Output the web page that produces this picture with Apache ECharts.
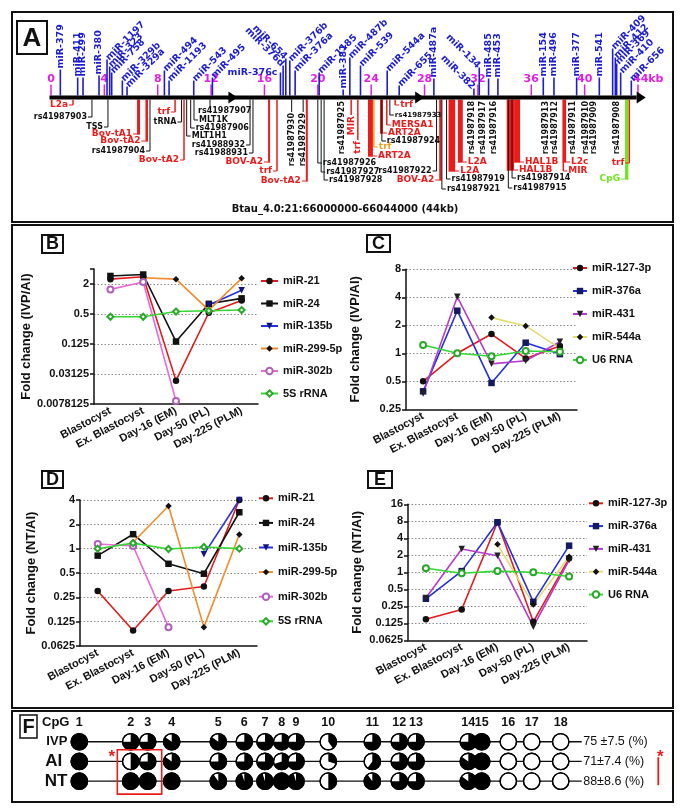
<!DOCTYPE html>
<html><head><meta charset="utf-8">
<script src="https://cdn.jsdelivr.net/npm/echarts@6/dist/echarts.min.js"></script>
<style>html,body{margin:0;padding:0;background:#fff}#c{width:685px;height:812px}</style>
</head><body><div id="c"></div>
<script>
// ---------------- DATA ----------------
const cats = ['Blastocyst','Ex. Blastocyst','Day-16 (EM)','Day-50 (PL)','Day-225 (PLM)'];

// Panel B : fold change IVP/AI
const bNames    = ['miR-21','miR-24','miR-135b','miR-299-5p','miR-302b','5S rRNA'];
const b_miR21   = [2.5, 2.8, 0.023, 0.53, 0.93];
const b_miR24   = [2.9, 3.1, 0.14, 0.8, 1.03];
const b_miR135b = [null, null, null, 0.76, 1.5];
const b_miR299  = [null, 2.67, 2.5, 0.6, 2.6];
const b_miR302b = [1.56, 2.2, 0.009, null, null];
const b_5S      = [0.44, 0.44, 0.56, 0.58, 0.6];
const bTicks = [0.0078125, 0.03125, 0.125, 0.5, 2];
const bAxisTop = 4;

// Panel C : fold change IVP/AI
const cNames  = ['miR-127-3p','miR-376a','miR-431','miR-544a','U6 RNA'];
const c_127   = [0.5, 1.0, 1.61, 0.88, 1.2];
const c_376a  = [0.39, 2.87, 0.48, 1.3, 0.98];
const c_431   = [0.37, 4.05, 0.77, 0.83, 1.33];
const c_544a  = [null, null, 2.42, 1.97, 1.13];
const c_U6    = [1.23, 1.0, 0.93, 1.06, 1.04];
const cTicks = [0.25, 0.5, 1, 2, 4, 8];
const cAxisTop = 8;

// Panel D : fold change NT/AI
const d_miR21   = [0.3, 0.097, 0.3, 0.34, 4.0];
const d_miR24   = [0.82, 1.51, 0.65, 0.49, 2.82];
const d_miR135b = [null, null, null, 0.85, 4.0];
const d_miR299  = [null, 1.2, 3.37, 0.107, 1.5];
const d_miR302b = [1.14, 1.08, 0.107, null, null];
const d_5S      = [1.0, 1.17, 0.99, 1.05, 1.0];
const dTicks = [0.0625, 0.125, 0.25, 0.5, 1, 2, 4];
const dAxisTop = 4;

// Panel E : fold change NT/AI
const e_127  = [0.147, 0.22, 7.7, 0.133, 1.77];
const e_376a = [0.34, 1.05, 7.7, 0.3, 2.96];
const e_431  = [0.35, 2.59, 1.97, 0.109, 1.65];
const e_544a = [null, null, 3.13, 0.27, 1.89];
const e_U6   = [1.18, 0.96, 1.05, 1.0, 0.84];
const eTicks = [0.0625, 0.125, 0.25, 0.5, 1, 2, 4, 8, 16];
const eAxisTop = 16;

// Panel A : genomic map (positions in kb)
const kbTicks = [0,4,8,12,16,20,24,28,32,36,40,44];
const kbTickLabels = ['0','4','8','12','16','20','24','28','32','36','40','44kb'];
const mirNames = ['miR-379','miR-411','miR-299','miR-380','miR-1197','miR-323','miR-758','miR-329b','miR-329a','miR-494','miR-1193','miR-543','miR-495','miR-376c','miR-376d','miR-654','miR-376b','miR-376a','miR-1185','miR-381','miR-487b','miR-539','miR-544a','miR-655','miR-487a','miR-382','miR-134','miR-485','miR-453','miR-154','miR-496','miR-377','miR-541','miR-409','miR-412','miR-369','miR-410','miR-656'];
const mirKb = [0.7,2.0,2.4,3.6,4.2,4.4,4.55,5.35,5.7,8.5,8.85,10.7,12.1,17.2,17.4,17.6,17.9,18.3,20.1,21.9,22.4,23.2,25.2,26.1,28.7,31.7,32.1,32.8,33.5,36.9,37.7,39.4,41.1,42.1,42.3,42.4,42.7,43.5];
const featNames = ['L2a','rs41987903','TSS','Bov-tA1','Bov-tA2','rs41987904','trf','tRNA','Bov-tA2','MLT1H1','rs41987906','MLT1K','rs41987907','rs41988932','rs41988931','BOV-A2','trf','rs41987930','rs41987929','Bov-tA2','rs41987926','rs41987927','rs41987928','rs41987925','MIR','trf','ART2A','trf','ART2A','rs41987924','MERSA1','rs41987933','trf','rs41987922','BOV-A2','rs41987921','rs41987919','L2A','L2A','rs41987918','rs41987917','rs41987916','HAL1B','HAL1B','rs41987915','rs41987914','rs41987913','rs41987912','L2c','MIR','rs41987911','rs41987910','rs41987909','rs41987908','CpG','trf'];
const featKb = [1.65,3.07,4.27,6.45,7.08,7.42,9.30,9.78,9.97,10.17,10.47,10.72,11.92,14.92,15.14,16.27,16.94,18.04,18.9,19.1,20.0,20.25,20.47,21.8,22.5,23.0,23.76,24.2,24.66,24.8,25.17,25.4,25.8,28.9,29.1,29.3,29.65,29.8,30.5,31.54,32.4,33.23,34.16,34.71,34.28,34.56,37.1,37.78,38.36,38.4,39.15,40.1,40.7,42.4,43.03,43.35];
const featLenKb = [0,0,0,0.22,0.19,0,0,0,0,0,0,0,0,0,0,0.15,0,0,0,0.1,0,0,0,0,0,0,0.37,0,0.22,0,0,0,0,0,0.18,0,0,0.5,0.37,0,0,0,0.55,0.45,0,0,0,0,0.25,0,0,0,0,0,0.25,0];
const featKind = ['r','k','k','r','r','k','r','k','r','k','k','k','k','k','k','r','r','k','k','r','k','k','k','k','r','r','r','o','r','k','r','k','r','k','r','k','k','r','r','k','k','k','r','r','k','k','k','k','r','r','k','k','k','k','g','r'];

// Panel F : CpG methylation (fraction methylated)
const cpgIds = [1,2,3,4,5,6,7,8,9,10,11,12,13,14,15,16,17,18];
const cpgPos = [0,51.4,68.4,92.4,139,165,185.7,202.4,216.7,249,293,320,336.7,389,402.4,429,452.4,481.4];
const groups = ['IVP','AI','NT'];
const methIVP = [1,0.75,0.75,0.85,0.85,0.75,0.75,0.75,0.75,0.4,0.75,0.75,0.75,0.75,1,0,0,0];
const methAI  = [1,0.5,0.75,0.85,0.75,0.75,0.75,0.7,0.75,0.3,0.6,0.75,0.75,0.85,1,0,0,0];
const methNT  = [1,1,1,1,0.9,0.95,0.95,1,0.95,0.5,0.9,0.75,0.75,0.85,1,0,0,0];
const methPct = ['75 \u00b17.5 (%)','71\u00b17.4 (%)','88\u00b18.6 (%)'];
const sigCpG = [2,3];

// ---------------- LAYOUT / STYLE ----------------
const FAM = '"Liberation Sans", Arial, sans-serif';
const DJ = '"DejaVu Sans", sans-serif';
const BLUE = '#1c1cd6', MAGENTA = '#e31ee3', RED = '#ec1c1c';
const KIND_COLOR = {r: RED, k: '#111', o: '#f0a020', g: '#6ee61e'};
// miRNA label orientation + stem height(px)
const mirLayout = [['v',26],['v',18],['v',18],['v',20],['d',36],['d',29],['d',23],['d',15],['d',9],['d',25],['d',15],['d',15],['d',18],['h',23],['b',30],['b',37],['d',35],['d',25],['d',23],['v',6],['d',38],['d',30],['d',25],['d',10],['v',17],['b',7],['b',28],['v',17],['v',17],['v',18],['v',18],['v',18],['v',18],['d',47],['d',38],['d',32],['d',23],['d',15]];
// feature label side + label y (px)
const featLayout = [['l',105],['l',117],['l',127],['l',134],['l',141],['l',151],['l',112],['l',122],['l',160],['r',136],['r',128],['r',120],['u',111],['l',145],['l',153],['l',162],['l',171],['v',113],['v',113],['l',181],['r',163],['r',172],['r',180],['v',101],['v',116],['v',141],['r',156],['r',147],['r',133],['r',141],['r',125],['r',115],['r',105],['l',171],['l',180],['r',189],['r',179],['r',171],['r',162],['v',101],['v',101],['v',101],['r',170],['r',162],['r',188],['r',178],['v',101],['v',101],['r',162],['r',171],['v',101],['v',101],['v',101],['v',101],['l',179],['l',163]];
const arrowKb = [13.3, 27.3, 43.9];

const STY = {
  'miR-21':     {line:'#e41a1c', sym:'circle', fill:'#111'},
  'miR-24':     {line:'#111111', sym:'rect', fill:'#111'},
  'miR-135b':   {line:'#2230e0', sym:'triangle', rot:180, fill:'#141480'},
  'miR-299-5p': {line:'#f58a2a', sym:'diamond', fill:'#111'},
  'miR-302b':   {line:'#e86ad8', sym:'emptyCircle', fill:'#b060b8'},
  '5S rRNA':    {line:'#33d633', sym:'emptyDiamond', fill:'#2aa82a'},
  'miR-127-3p': {line:'#e41a1c', sym:'circle', fill:'#111'},
  'miR-376a':   {line:'#2230e0', sym:'rect', fill:'#141a60'},
  'miR-431':    {line:'#b43ccc', sym:'triangle', rot:180, fill:'#222'},
  'miR-544a':   {line:'#e3dc6e', sym:'diamond', fill:'#111'},
  'U6 RNA':     {line:'#33d633', sym:'emptyCircle', fill:'#2aa82a'}
};

function mkSeries(name, vals, gi) {
  const s = STY[name];
  return {type:'line', name, xAxisIndex:gi, yAxisIndex:gi,
    data: vals.map(v => v == null ? null : Math.log2(v)),
    symbol: s.sym, symbolSize: s.sym.indexOf('empty') === 0 ? 6 : 6.5, symbolRotate: s.rot || 0,
    lineStyle:{color:s.line, width:1.6}, itemStyle:{color:s.fill, borderWidth: s.sym.indexOf('empty') === 0 ? 1.3 : 0},
    connectNulls:false, animation:false, silent:true};
}
function yAx(gi, ticks, top, gap, name, showMax) {
  const lo = Math.log2(ticks[0]);
  const step = Math.log2(ticks[1] / ticks[0]);
  return {gridIndex:gi, type:'value', min:lo, max:Math.log2(top), interval:step,
    name, nameLocation:'middle', nameGap:gap, nameRotate:90,
    nameTextStyle:{fontFamily:FAM, fontWeight:'bold', fontSize:13, color:'#111'},
    axisLine:{show:true, onZero:false, lineStyle:{color:'#111', width:1.5}},
    axisTick:{show:true, length:4, lineStyle:{color:'#111', width:1.5}},
    axisLabel:{margin:5, fontFamily:FAM, fontWeight:'bold', fontSize:11, color:'#111',
      formatter: v => { const t = ticks.find(t => Math.abs(Math.log2(t) - v) < 1e-6); return t == null ? '' : String(t); }},
    splitLine:{show:true, showMinLine:false, showMaxLine:showMax, lineStyle:{color:'#8a8a8a', width:1, type:[1.5,2]}}};
}
function xAx(gi) {
  return {gridIndex:gi, type:'category', data:cats, boundaryGap:true,
    axisLine:{onZero:false, lineStyle:{color:'#111', width:1.5}},
    axisTick:{alignWithLabel:true, length:4, lineStyle:{color:'#111', width:1.5}},
    axisLabel:{interval:0, rotate:28, margin:6, fontFamily:FAM, fontWeight:'bold', fontSize:11, color:'#111'},
    splitLine:{show:false}};
}
function lg(names, left, top, gap, iw) {
  return {data:names, orient:'vertical', left, top, padding:0, itemGap:gap, itemWidth:iw, itemHeight:8, selectedMode:false,
    textStyle:{fontFamily:FAM, fontWeight:'bold', fontSize:11, color:'#111', lineHeight:12}};
}

// ---------------- PANEL A renderer ----------------
function renderA(params, api) {
  const X = kb => api.coord([kb, 0])[0];
  const yc = api.coord([0, 0])[1];
  const yTop = yc - 2, yBot = yc + 2;
  const ch = [];
  kbTicks.forEach((k, i) => {
    const x = X(k), last = i === kbTicks.length - 1;
    ch.push({type:'line', shape:{x1:x, y1:yTop - 11, x2:x, y2:yTop}, style:{stroke:MAGENTA, lineWidth:1.5}});
    ch.push({type:'text', x: last ? x - 5 : x, y: yTop - 16, style:{text:kbTickLabels[i], fill:MAGENTA, font:'bold 11px ' + DJ, align: last ? 'left' : 'center', verticalAlign:'middle'}});
  });
  mirNames.forEach((n, i) => {
    const x = X(mirKb[i]); const o = mirLayout[i][0], top = yTop - mirLayout[i][1];
    ch.push({type:'line', shape:{x1:x, y1:yTop, x2:x, y2:top}, style:{stroke:BLUE, lineWidth:1.6}});
    let t;
    if (o === 'v') t = {x:x, y:top - 1, r:Math.PI / 2, a:'left'};
    else if (o === 'd') t = {x:x + 0.5, y:top - 0.5, r:Math.PI / 4, a:'left'};
    else if (o === 'b') t = {x:x - 0.5, y:top - 0.5, r:-Math.PI / 4, a:'right'};
    else t = {x:x - 3, y:top, r:0, a:'right'};
    ch.push({type:'text', x:t.x, y:t.y, rotation:t.r, style:{text:n, fill:BLUE, font:'bold 9.5px ' + DJ, align:t.a, verticalAlign:'middle'}});
  });
  const texts = [];
  const lines = [];
  featNames.forEach((n, i) => {
    const kind = featKind[i], col = KIND_COLOR[kind];
    const side = featLayout[i][0], ly = featLayout[i][1];
    const x0 = X(featKb[i]);
    const x1 = featLenKb[i] > 0 ? X(featKb[i] + featLenKb[i]) : x0;
    const fs = kind === 'k' ? (n === 'rs41987933' ? 7 : 8) : 9;
    const font = 'bold ' + fs + 'px ' + DJ;
    if (featLenKb[i] > 0) {
      ch.push({type:'rect', shape:{x:x0, y:yBot, width:Math.max(x1 - x0, 2), height:ly - yBot + 0.7}, style:{fill:col}});
    } else {
      const yEnd = side === 'v' ? ly - 1 : (side === 'u' ? ly - 5 : ly);
      if (yEnd > yBot + 1) lines.push({type:'line', shape:{x1:x0, y1:yBot, x2:x0, y2:yEnd}, style:{stroke:col, lineWidth: kind === 'k' ? 1 : 1.5}});
    }
    if (side === 'l') {
      lines.push({type:'line', shape:{x1:x0 - 4, y1:ly, x2:x0, y2:ly}, style:{stroke:col, lineWidth:1}});
      texts.push({type:'text', x:x0 - 5, y:ly, style:{text:n, fill:col, font, align:'right', verticalAlign:'middle'}});
    } else if (side === 'r') {
      lines.push({type:'line', shape:{x1:x1, y1:ly, x2:x1 + 4, y2:ly}, style:{stroke:col, lineWidth:1}});
      texts.push({type:'text', x:x1 + 5, y:ly, style:{text:n, fill:col, font, align:'left', verticalAlign:'middle'}});
    } else if (side === 'v') {
      texts.push({type:'text', x:x0, y:ly, rotation:Math.PI / 2, style:{text:n, fill:col, font, align:'right', verticalAlign:'middle'}});
    } else {
      texts.push({type:'text', x:x0 - 12, y:ly - 4, style:{text:n, fill:col, font, align:'left', verticalAlign:'top'}});
    }
  });
  // track
  ch.push({type:'rect', shape:{x:X(0) - 1.5, y:yTop, width:X(43.9) - X(0) + 1.5, height:yBot - yTop}, style:{fill:'#000'}});
  arrowKb.forEach(k => { const x = X(k); ch.push({type:'polygon', shape:{points:[[x, yc - 6], [x + 9, yc], [x, yc + 6]]}, style:{fill:'#000'}}); });
  return {type:'group', children: ch.concat(lines, texts)};
}

// ---------------- PANEL F renderers ----------------
const methRows = [methIVP, methAI, methNT];
const fCircleData = [];
methRows.forEach((row, r) => row.forEach((f, i) => fCircleData.push([cpgPos[i], r, f, cpgIds[i]])));
function renderCircle(params, api) {
  const p = api.coord([api.value(0), api.value(1)]);
  const f = api.value(2), R = 8.2;
  const ch = [{type:'circle', shape:{cx:p[0], cy:p[1], r:R}, style:{fill:'#fff', stroke:'#000', lineWidth:1.3}}];
  if (f > 0) ch.push({type:'sector', shape:{cx:p[0], cy:p[1], r:R, r0:0, startAngle:-Math.PI / 2, endAngle:-Math.PI / 2 + f * 2 * Math.PI, clockwise:true}, style:{fill:'#000'}});
  ch.push({type:'circle', shape:{cx:p[0], cy:p[1], r:R}, style:{fill:'none', stroke:'#000', lineWidth:1.3}});
  if (api.value(1) === 0) ch.push({type:'text', x:p[0], y:p[1] - 19, style:{text:String(api.value(3)), fill:'#111', font:'bold 12.5px ' + FAM, align:'center', verticalAlign:'middle'}});
  return {type:'group', children:ch};
}
function renderRowLine(params, api) {
  const r = api.value(1);
  const p0 = api.coord([cpgPos[0], r]), p1 = api.coord([cpgPos[cpgPos.length - 1], r]);
  return {type:'group', children:[
    {type:'line', shape:{x1:p0[0], y1:p0[1], x2:p1[0] + 21, y2:p0[1]}, style:{stroke:'#111', lineWidth:1.3}},
    {type:'text', x:p1[0] + 22.5, y:p0[1], style:{text:methPct[r], fill:'#111', font:'12.5px ' + FAM, align:'left', verticalAlign:'middle'}}
  ]};
}
function renderSig(params, api) {
  const a = api.coord([cpgPos[sigCpG[0] - 1], 1]), b = api.coord([cpgPos[sigCpG[1] - 1], 2]);
  const e = api.coord([cpgPos[cpgPos.length - 1], 1]), e2 = api.coord([cpgPos[cpgPos.length - 1], 2]);
  return {type:'group', children:[
    {type:'rect', shape:{x:a[0] - 13.4, y:a[1] - 11.7, width:(b[0] + 14) - (a[0] - 13.4), height:(b[1] + 13) - (a[1] - 11.7)}, style:{fill:'none', stroke:RED, lineWidth:1.6}},
    {type:'text', x:a[0] - 19, y:a[1] - 4, style:{text:'*', fill:RED, font:'bold 17px ' + FAM, align:'center', verticalAlign:'middle'}},
    {type:'line', shape:{x1:e[0] + 97.6, y1:a[1] - 4.3, x2:e[0] + 97.6, y2:e2[1] + 4}, style:{stroke:RED, lineWidth:1.8}},
    {type:'text', x:e[0] + 99.5, y:a[1] - 4, style:{text:'*', fill:RED, font:'bold 17px ' + FAM, align:'center', verticalAlign:'middle'}}
  ]};
}

// ---------------- OPTION ----------------
function box(x, y, w, h, lw) { return {type:'rect', shape:{x, y, width:w, height:h}, style:{fill:'none', stroke:'#111', lineWidth:lw}}; }
function lbl(x, y, t, fs) { return {type:'text', x, y, style:{text:t, fill:'#111', font:'bold ' + fs + 'px ' + FAM, align:'center', verticalAlign:'middle'}}; }

const option = {
  backgroundColor:'#fff',
  animation:false,
  grid:[
    {left:94, top:269, width:164, height:135},
    {left:406, top:269.3, width:171, height:140},
    {left:80, top:500, width:177, height:146},
    {left:408, top:504.3, width:179, height:136},
    {left:51, top:90, width:587, height:7.5},
    {left:79.3, top:731.9, width:481.4, height:59.1}
  ],
  xAxis:[xAx(0), xAx(1), xAx(2), xAx(3),
    {gridIndex:4, type:'value', min:0, max:44, show:false},
    {gridIndex:5, type:'value', min:0, max:cpgPos[cpgPos.length - 1], show:false}],
  yAxis:[
    yAx(0, bTicks, bAxisTop, 60, 'Fold change (IVP/AI)', false),
    yAx(1, cTicks, cAxisTop, 44, 'Fold change (IVP/AI)', true),
    yAx(2, dTicks, dAxisTop, 42, 'Fold change (NT/AI)', true),
    yAx(3, eTicks, eAxisTop, 44, 'Fold change (NT/AI)', true),
    {gridIndex:4, type:'value', min:0, max:1, show:false},
    {gridIndex:5, type:'category', data:groups, inverse:true, boundaryGap:true,
      axisLine:{show:false}, axisTick:{show:false}, splitLine:{show:false},
      axisLabel:{margin:12, color:'#111', fontFamily:FAM, formatter: v => '{' + v + '|' + v + '}',
        rich:{IVP:{fontSize:13, fontWeight:'bold', fontFamily:FAM}, AI:{fontSize:17, fontWeight:'bold', fontFamily:FAM, padding:[0,5,0,0]}, NT:{fontSize:17, fontWeight:'bold', fontFamily:FAM}}}}
  ],
  legend:[
    lg(bNames, 260, 275, 10.5, 17),
    lg(cNames, 572, 262, 11, 14),
    lg(bNames, 258, 492.3, 12.6, 14),
    lg(cNames, 588, 497.3, 10.8, 14)
  ],
  series:[
    mkSeries('miR-21', b_miR21, 0), mkSeries('miR-24', b_miR24, 0), mkSeries('miR-135b', b_miR135b, 0),
    mkSeries('miR-299-5p', b_miR299, 0), mkSeries('miR-302b', b_miR302b, 0), mkSeries('5S rRNA', b_5S, 0),
    mkSeries('miR-127-3p', c_127, 1), mkSeries('miR-376a', c_376a, 1), mkSeries('miR-431', c_431, 1),
    mkSeries('miR-544a', c_544a, 1), mkSeries('U6 RNA', c_U6, 1),
    mkSeries('miR-21', d_miR21, 2), mkSeries('miR-24', d_miR24, 2), mkSeries('miR-135b', d_miR135b, 2),
    mkSeries('miR-299-5p', d_miR299, 2), mkSeries('miR-302b', d_miR302b, 2), mkSeries('5S rRNA', d_5S, 2),
    mkSeries('miR-127-3p', e_127, 3), mkSeries('miR-376a', e_376a, 3), mkSeries('miR-431', e_431, 3),
    mkSeries('miR-544a', e_544a, 3), mkSeries('U6 RNA', e_U6, 3),
    {type:'custom', xAxisIndex:4, yAxisIndex:4, data:[[0, 0]], renderItem:renderA, silent:true, animation:false, clip:false},
    {type:'custom', xAxisIndex:5, yAxisIndex:5, data:groups.map((g, r) => [0, r]), renderItem:renderRowLine, silent:true, animation:false, clip:false, z:1},
    {type:'custom', xAxisIndex:5, yAxisIndex:5, data:fCircleData, renderItem:renderCircle, silent:true, animation:false, clip:false, z:2},
    {type:'custom', xAxisIndex:5, yAxisIndex:5, data:[[0, 0]], renderItem:renderSig, silent:true, animation:false, clip:false, z:3}
  ],
  graphic:[
    box(12, 12, 661, 210, 2), box(17, 21, 30, 33, 2), lbl(32, 38.5, 'A', 26),
    {type:'text', x:345, y:209, style:{text:'Btau_4.0:21:66000000-66044000 (44kb)', fill:'#111', font:'bold 10px ' + DJ, align:'center', verticalAlign:'middle'}},
    box(12, 225, 661, 483, 2),
    box(42, 235, 21, 18, 2), lbl(52.5, 244.5, 'B', 18),
    box(367, 235, 23, 17, 2), lbl(378.5, 244, 'C', 18),
    box(42, 471, 21, 17, 2), lbl(52.5, 480, 'D', 18),
    box(368, 471, 24, 17, 2), lbl(380, 480, 'E', 18),
    box(12, 711, 661, 91, 2),
    box(20, 715, 17, 23, 1.5), lbl(28.5, 727, 'F', 20),
    {type:'text', x:42, y:722.7, style:{text:'CpG', fill:'#111', font:'bold 13px ' + FAM, align:'left', verticalAlign:'middle'}}
  ]
};
const chart = echarts.init(document.getElementById('c'), null, {renderer:'canvas'});
chart.setOption(option);
</script></body></html>
